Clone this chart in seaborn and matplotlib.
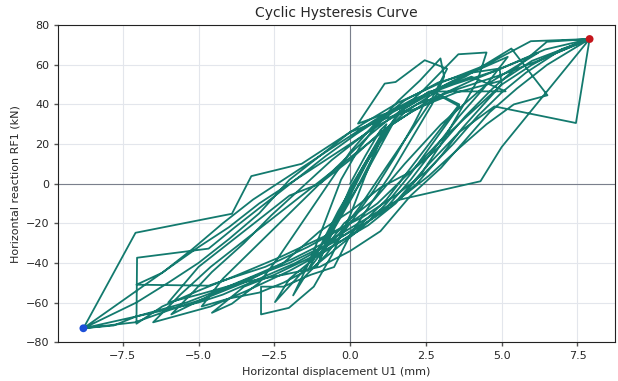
import matplotlib
matplotlib.use("Agg")
import matplotlib.pyplot as plt
import seaborn as sns
import pandas as pd

sns.set_theme(style="ticks", context="paper")
plt.rcParams['font.family'] = ['DejaVu Sans']

# Displacement (mm) and reaction (kN), in load-step order, one line per cycle
disp = [
    0.0, 0.5, 1.0, 1.2, 0.7, 0.1, -0.5, -1.11, -0.6, 0.0, 0.6, 1.1,
    1.8, 2.6, 2.1, 1.5, 0.8, 0.0, -0.8, -1.5, -1.88, -1.3, -0.8, -0.3, 0.3, 0.9,
    1.6, 2.3, 2.98, 3.1, 2.7, 2.0, 1.3, 0.6, 0.0, -0.53, -1.3, -2.2, -2.94, -2.94, -2.02, -1.2, -0.6, 0.0, 0.5, 1.0, 1.6,
    2.4, 3.57, 4.5, 4.2, 3.6, 3.0, 2.3, 1.5, 0.6, -0.4, -1.4, -2.5, -3.5, -4.56, -3.9, -3.0, -2.4, -1.6, -0.8, 0.0, 0.8, 1.8, 2.9,
    4.0, 4.93, 5.0, 4.4, 3.7, 3.0, 2.2, 1.3, 0.3, -0.8, -2.0, -3.2, -4.3, -5.9, -5.2, -4.56, -3.5, -2.6, -1.6, -0.6, 0.4, 1.4, 2.6, 3.8,
    5.32, 6.51, 5.4, 4.5, 3.6, 2.6, 1.6, 0.5, -0.6, -1.9, -3.1, -4.2, -5.4, -7.05, -7.8, -8.8,
    -7.08, -3.9, -3.26, -1.6, -0.6, 0.4, 1.6, 3.0, 4.5, 5.96, 7.9,
    7.45, 4.76, 3.6, 2.6, 1.55, 4.3, 5.0, 7.9,
    6.49, 5.6, 4.7, 3.8, 2.9, 1.8, 0.9, -0.2, -1.4, -2.8, -4.0, -4.67, -7.05, -6.2, -5.2, -4.2, -3.2, -2.2, -1.2, -0.2, 0.8, 2.0, 3.4, 4.8, 6.43, 7.9,
    6.8, 5.8, 5.0, 4.2, 3.4, 2.5, 1.5, 0.4, -0.9, -2.3, -3.7, -5.0, -6.2, -7.05, -7.03, -4.67, -3.8, -2.8, -1.8, -0.8, 0.2, 1.3, 2.6, 4.0, 5.13, 2.6, 2.0, 0.26, 1.14, 1.5, 2.46, 3.2,
    2.6, 1.8, 1.0, 0.3, -0.4, -1.2, -2.0, -2.48, -1.6, -0.8, -0.2, 0.4, 1.0, 1.8, 2.8, 3.6,
    2.8, 2.0, 1.2, 0.4, -0.6, -1.8, -3.0, -4.2, -5.0, -8.8, -5.0, -4.0, -3.0, -2.0, -1.0, 0.0, 1.0, 2.2, 3.6, 5.0, 6.2, 7.9,
    7.0, 6.0, 5.0, 4.0, 3.0, 2.0, 1.0, 0.0, -1.0, -2.2, -3.5, -4.8, -6.0, -7.1, -8.8,
    -7.05, -6.0, -5.0, -4.0, -3.0, -2.0, -1.0, 0.0, 1.0, 2.2, 3.5, 5.0, 6.0, 7.9,
    6.5, 5.5, 4.6, 3.8, 3.0, 2.0, 1.0, 0.0, -1.0, -2.2, -3.6, -5.0, -6.0,
    -5.0, -4.0, -3.0, -2.0, -1.0, 0.0, 1.0, 2.0, 3.0, 3.6,
    2.8, 2.0, 1.2, 0.4, -0.4, -1.2, -2.2, -3.0, -4.0, -4.9,
    -4.2, -3.4, -2.6, -1.8, -1.0, -0.2, 0.6, 1.4, 2.4, 3.4, 4.6, 5.2,
    4.4, 3.6, 2.8, 2.0, 1.2, 0.2, -0.8, -2.0, -3.4, -4.6, -6.5,
    -5.6, -4.6, -3.6, -2.6, -1.6, -0.6, 0.4, 1.4, 2.6, 4.0, 5.6, 6.2,
    4.5, 3.0, 1.8, 0.8, -0.2, -1.4, -0.4, 0.6, 1.4, 0.4, -0.6, -1.0, 0.0, 0.8,
]
force = [
    0, 14, 27, 30, 12, -6, -22, -42.1, -24, -6, 12, 26,
    38, 45, 30, 14, -3, -20, -36, -47, -56.4, -38, -18, 2, 18, 30,
    42, 52, 63.2, 54, 40, 22, 4, -12, -26, -42.1, -46, -52, -52, -66, -62.7, -52, -36, -16, 4, 22, 36,
    47, 65.3, 66.2, 52, 36, 20, 4, -10, -21, -30, -38, -46, -52, -65.2, -60.6, -50, -38, -20, -2, 16, 30, 42, 51,
    56, 58.1, 50, 40, 28, 14, 0, -12, -22, -31, -40, -47, -54, -66, -55, -44.6, -30, -16, -2, 12, 24, 36, 46, 54,
    68.2, 44.6, 40, 30, 18, 4, -8, -18, -28, -38, -46, -53, -60, -67, -71.6, -73,
    -24.8, -15.2, 3.8, 10, 20, 30, 41, 51, 60, 71.9, 73,
    30.6, 39, 26, 10, -8.4, 1.2, 18.5, 73,
    71.6, 60, 48, 34, 18, 3.3, -10, -22, -32, -42, -48, -51.5, -51, -45, -33, -20, -8, 2, 12, 22, 32, 42, 50, 57, 67.7, 73,
    66, 56, 46, 34, 20, 6, -6, -17, -27, -37, -46, -54, -62, -70.7, -37.4, -32.8, -22, -10, 2, 14, 25, 36, 46, 54, 46.6, 46.5, 40, 30.3, 50.5, 51.3, 62.3, 58,
    40, 22, 4, -12, -26, -38, -48, -59.8, -45, -28, -10, 8, 24, 36, 46, 40,
    24, 8, -8, -20, -30, -40, -48, -56, -60, -73, -32, -22, -10, 0, 10, 20, 30, 40, 48, 55, 62, 73,
    68, 60, 50, 36, 22, 6, -2, -14, -24, -40, -50, -58, -64, -70, -73,
    -60, -50, -40, -28, -15, 2, 14, 26, 32, 38, 46, 52, 62, 73,
    60, 48, 36, 22, 8, -6, -24, -34, -42, -46, -50, -56, -60,
    -42, -30, -18, -6, 0, 12, 26, 36, 44, 39,
    22, 5, -10, -22, -32, -42, -50, -55, -58, -62,
    -48, -36, -24, -12, 0, 12, 24, 34, 44, 52, 60, 64,
    48, 34, 18, 2, -12, -24, -34, -44, -54, -62, -70,
    -56, -42, -30, -18, -6, 6, 18, 30, 42, 52, 62, 66,
    50, 30, 10, -8, -20, -44, -14, 12, 30, 2, -22, -38, -2, 18,
]

df = pd.DataFrame({"u1": disp, "rf1": force})
i_max = df["rf1"].idxmax()
i_min = df["rf1"].idxmin()

fig, ax = plt.subplots(figsize=(6.18, 3.81), dpi=100)
fig.subplots_adjust(left=0.094, right=0.995, top=0.934, bottom=0.102)

ax.grid(True, color="#e3e6ec", linewidth=0.8)
ax.set_axisbelow(True)
ax.axhline(0, color="#7a7f8c", linewidth=0.8, zorder=1)
ax.axvline(0, color="#7a7f8c", linewidth=0.8, zorder=1)

sns.lineplot(data=df, x="u1", y="rf1", sort=False, estimator=None,
             color="#137a6e", linewidth=1.3, ax=ax, zorder=2)
sns.scatterplot(x=[df.loc[i_max, "u1"]], y=[df.loc[i_max, "rf1"]],
                color="#c4161c", s=32, edgecolor="none", ax=ax, zorder=3)
sns.scatterplot(x=[df.loc[i_min, "u1"]], y=[df.loc[i_min, "rf1"]],
                color="#1c4fd8", s=32, edgecolor="none", ax=ax, zorder=3)

ax.set_ylim(-80, 80)
ax.set_title("Cyclic Hysteresis Curve", fontsize=10)
ax.set_xlabel("Horizontal displacement U1 (mm)", fontsize=8)
ax.set_ylabel("Horizontal reaction RF1 (kN)", fontsize=8)
ax.tick_params(labelsize=8, length=3, color="#555555")
for s in ax.spines.values():
    s.set_color("#222222")
    s.set_linewidth(0.8)

fig.savefig("out.png", dpi=100)
